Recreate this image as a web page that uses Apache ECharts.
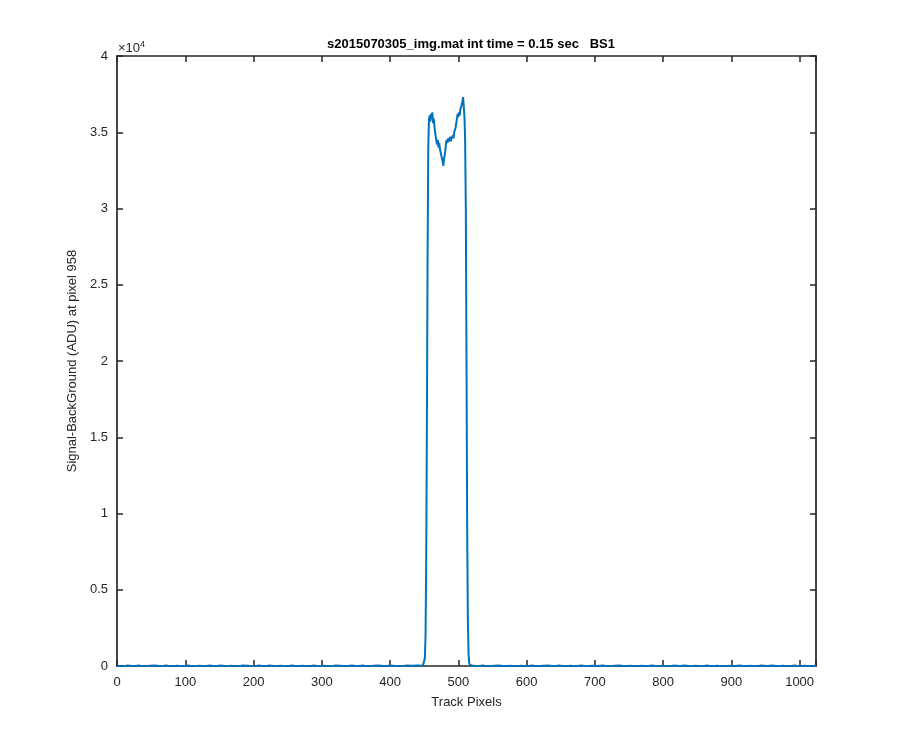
<!DOCTYPE html>
<html>
<head>
<meta charset="utf-8">
<script src="https://cdn.jsdelivr.net/npm/echarts@6/dist/echarts.min.js"></script>
<style>html,body{margin:0;padding:0;background:#fff;}#c{width:900px;height:750px;}</style>
</head>
<body>
<div id="c"></div>
<script>
// Track pixel / signal pairs (ADU)
const baselineLeft = [[0,20],[8,-30],[16,40],[24,-10],[32,30],[40,-40],[48,10],[56,40],[64,-20],[72,30],[80,-30],[88,10],[96,-10],[104,40],[112,-30],[120,20],[128,-10],[136,30],[144,-20],[152,40],[160,-10],[168,20],[176,-40],[184,30],[192,10],[200,-30],[208,40],[216,-10],[224,30],[232,-20],[240,10],[248,-30],[256,40],[264,-10],[272,20],[280,-30],[288,30],[296,-10],[304,10],[312,-40],[320,30],[328,20],[336,-20],[344,40],[352,-10],[360,30],[368,-30],[376,10],[384,40],[392,-20],[400,30],[408,0],[416,-30],[424,40],[432,10],[440,30],[448,20]];
const peak = [[449,20],[450,100],[451,500],[452,2000],[453,7000],[454,16000],[455,27000],[456,34000],[457,35800],[458,36100],[459,35700],[460,36200],[461,35900],[462,36300],[463,35600],[464,35900],[465,35400],[466,35000],[467,34700],[468,34400],[469,34200],[470,34500],[471,34000],[472,34300],[473,33900],[474,33700],[475,33500],[476,33600],[477,33100],[478,32800],[479,33200],[480,33500],[481,33800],[482,34300],[483,34500],[484,34300],[485,34600],[486,34400],[487,34500],[488,34700],[489,34400],[490,34600],[491,34500],[492,34800],[493,34600],[494,35000],[495,35100],[496,35300],[497,35600],[498,35900],[499,36200],[500,36000],[501,36300],[502,36100],[503,36500],[504,36600],[505,36800],[506,37000],[507,37300],[508,36700],[509,36000],[510,34500],[511,30000],[512,20000],[513,9000],[514,3000],[515,800],[516,200],[517,60],[518,20]];
const baselineRight = [[520,30],[528,-20],[536,30],[544,-30],[552,10],[560,40],[568,-10],[576,20],[584,-40],[592,20],[600,-10],[608,30],[616,-30],[624,10],[632,40],[640,-20],[648,30],[656,-30],[664,10],[672,-10],[680,40],[688,-20],[696,20],[704,0],[712,30],[720,-30],[728,10],[736,40],[744,-10],[752,20],[760,-30],[768,20],[776,-10],[784,30],[792,-20],[800,10],[808,-40],[816,30],[824,0],[832,40],[840,-20],[848,10],[856,-30],[864,30],[872,-10],[880,20],[888,-30],[896,20],[904,-10],[912,40],[920,-20],[928,10],[936,-30],[944,30],[952,0],[960,30],[968,-20],[976,10],[984,-30],[992,30],[1000,-10],[1008,20],[1016,-20],[1024,10]];
const xTicksMax = 1024;
const yMax = 40000;

const series = baselineLeft.concat(peak, baselineRight);
const axisColor = '#262626';
const font = 'Liberation Sans, Arial, Helvetica, sans-serif';

const chart = echarts.init(document.getElementById('c'), null, {renderer: 'canvas'});
chart.setOption({
  backgroundColor: '#ffffff',
  animation: false,
  title: {
    text: 's2015070305_img.mat int time = 0.15 sec   BS1',
    left: 466, top: 33, textAlign: 'center',
    textStyle: {fontFamily: font, fontWeight: 'bold', fontSize: 13, color: '#000'}
  },
  graphic: [{
    type: 'text', left: 118, top: 40,
    style: {
      text: '×10{s|4}',
      font: '13px ' + font,
      fill: axisColor,
      rich: {s: {fontSize: 9, fontFamily: font, fill: axisColor, verticalAlign: 'top', padding: [0,0,7,0]}}
    }
  }],
  grid: {left: 117, right: 84, top: 56, bottom: 84, show: false},
  xAxis: [{
    type: 'value', min: 0, max: xTicksMax, interval: 100,
    name: 'Track Pixels', nameLocation: 'middle', nameGap: 30,
    nameTextStyle: {fontFamily: font, fontSize: 13, color: axisColor},
    axisLine: {show: true, onZero: false, lineStyle: {color: axisColor, width: 1.7}},
    axisTick: {show: true, inside: true, length: 6, lineStyle: {color: axisColor, width: 1.5}},
    axisLabel: {fontFamily: font, fontSize: 13, color: axisColor, margin: 10,
      formatter: v => (v === 1024 ? '' : String(v))},
    splitLine: {show: false}
  }, {
    type: 'value', position: 'top', min: 0, max: xTicksMax, interval: 100,
    axisLine: {show: true, onZero: false, lineStyle: {color: axisColor, width: 1.7}},
    axisTick: {show: true, inside: true, length: 6, lineStyle: {color: axisColor, width: 1.5}},
    axisLabel: {show: false}, splitLine: {show: false}
  }],
  yAxis: [{
    type: 'value', min: 0, max: yMax, interval: 5000,
    name: 'Signal-BackGround (ADU) at pixel 958', nameLocation: 'middle', nameGap: 37,
    nameTextStyle: {fontFamily: font, fontSize: 13, color: axisColor},
    axisLine: {show: true, onZero: false, lineStyle: {color: axisColor, width: 1.7}},
    axisTick: {show: true, inside: true, length: 6, lineStyle: {color: axisColor, width: 1.5}},
    axisLabel: {fontFamily: font, fontSize: 13, color: axisColor, margin: 9,
      formatter: v => String(v / 10000)},
    splitLine: {show: false}
  }, {
    type: 'value', position: 'right', min: 0, max: yMax, interval: 5000,
    axisLine: {show: true, onZero: false, lineStyle: {color: axisColor, width: 1.7}},
    axisTick: {show: true, inside: true, length: 6, lineStyle: {color: axisColor, width: 1.5}},
    axisLabel: {show: false}, splitLine: {show: false}
  }],
  series: [{
    type: 'line', xAxisIndex: 0, yAxisIndex: 0,
    data: series, showSymbol: false, symbol: 'none',
    lineStyle: {color: '#0072BD', width: 2},
    z: 1
  }]
});
</script>
</body>
</html>
